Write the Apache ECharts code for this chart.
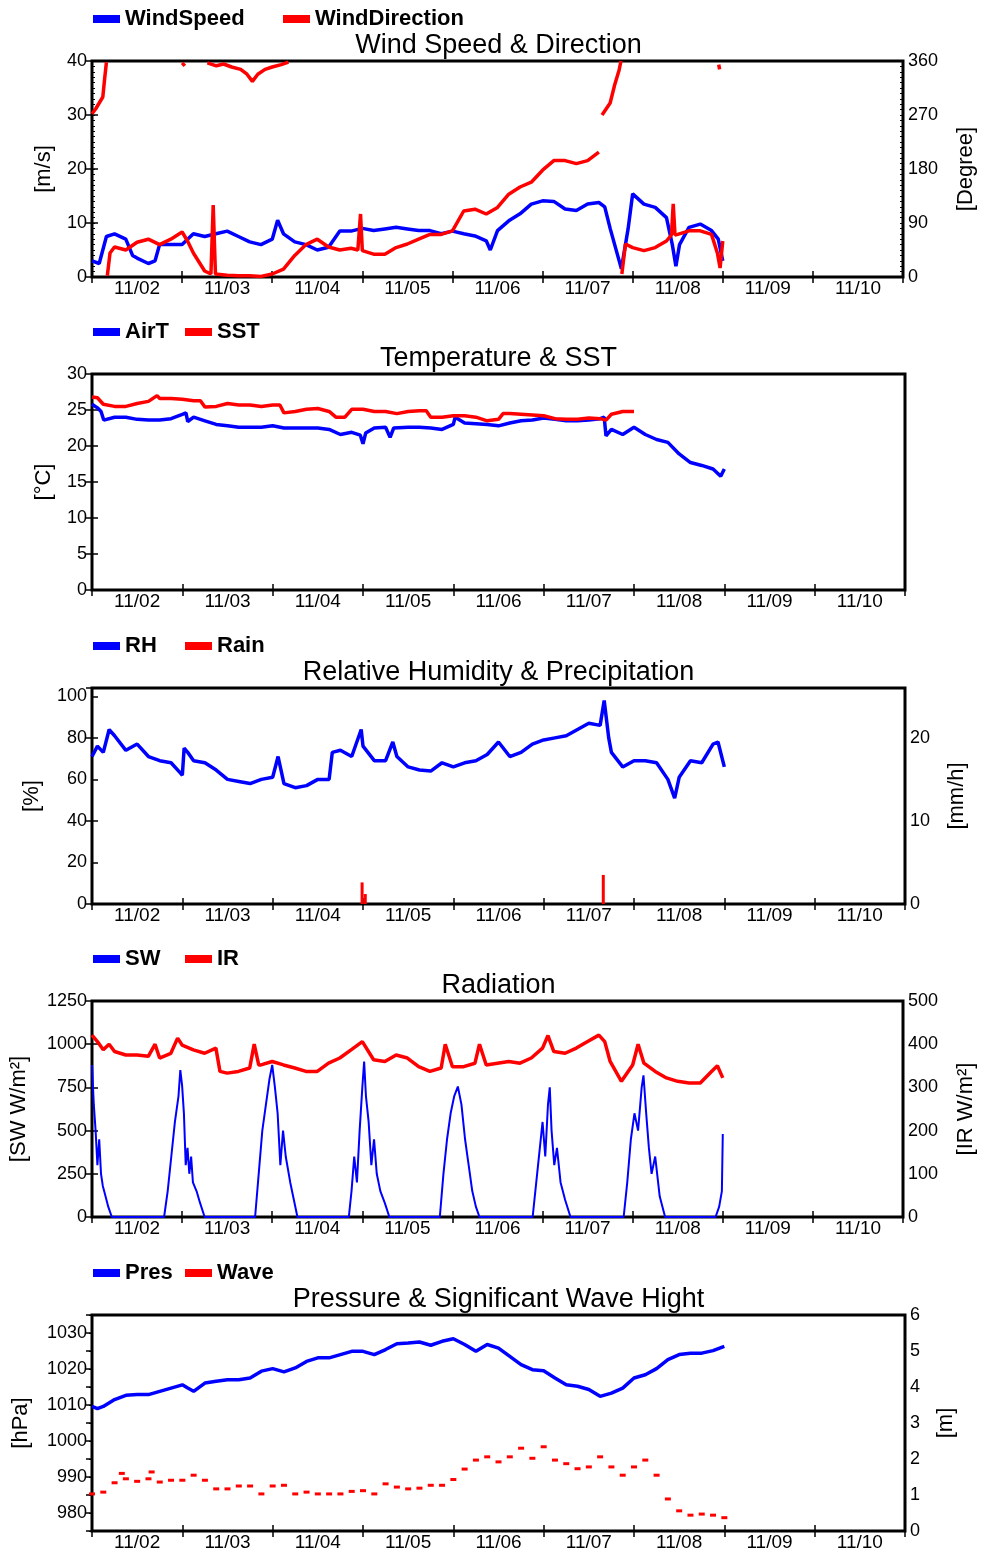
<!DOCTYPE html>
<html><head><meta charset="utf-8">
<script src="https://cdn.jsdelivr.net/npm/echarts@6/dist/echarts.min.js"></script>
<style>html,body{margin:0;padding:0;background:#fff}#c{width:985px;height:1557px}</style>
</head><body><div id="c"></div><script>
// ---------------- DATA ----------------
// x = days since 11/02 00:00
const DAY_LABELS = ['11/02','11/03','11/04','11/05','11/06','11/07','11/08','11/09','11/10'];
const TITLES = ['Wind Speed & Direction','Temperature & SST','Relative Humidity & Precipitation','Radiation','Pressure & Significant Wave Hight'];

const windSpeed = [[0,3],[0.08,2.5],[0.16,7.5],[0.25,8],[0.375,7],[0.45,4],[0.5,3.5],[0.625,2.5],[0.7,3],[0.75,6],[0.875,6],[1,6],[1.125,8],[1.25,7.5],[1.375,8],[1.5,8.5],[1.625,7.5],[1.75,6.5],[1.875,6],[2,7],[2.06,10.5],[2.125,8],[2.25,6.5],[2.375,6],[2.5,5],[2.625,5.5],[2.75,8.5],[2.875,8.5],[3,9],[3.125,8.6],[3.25,8.9],[3.375,9.2],[3.5,8.9],[3.625,8.6],[3.75,8.6],[3.875,8],[4,8.5],[4.125,8],[4.25,7.6],[4.375,6.7],[4.42,5],[4.5,8.6],[4.625,10.4],[4.75,11.7],[4.875,13.5],[5,14.1],[5.125,14],[5.25,12.6],[5.375,12.3],[5.5,13.5],[5.625,13.8],[5.69,13],[5.75,9],[5.875,1.5],[5.95,9],[6,15.4],[6.125,13.5],[6.25,12.9],[6.375,11],[6.44,6],[6.48,2],[6.52,6],[6.625,9.2],[6.75,9.8],[6.875,8.6],[6.95,7],[7,3]];
const windDirLow = [[0,272],[0.04,280],[0.08,290],[0.12,300],[0.14,330],[0.16,358],[0.165,'-'],[0.17,2],[0.2,40],[0.25,50],[0.375,45],[0.5,58],[0.625,63],[0.75,54],[0.875,63],[1,75],[1.06,60],[1.125,40],[1.25,10],[1.32,5],[1.345,120],[1.37,5],[1.5,3],[1.625,2],[1.75,2],[1.875,1],[2,5],[2.125,13],[2.25,36],[2.375,54],[2.5,63],[2.625,50],[2.75,45],[2.875,48],[2.95,45],[2.98,105],[3.0,44],[3.125,38],[3.25,38],[3.375,49],[3.5,55],[3.625,63],[3.75,71],[3.875,71],[4,77],[4.125,110],[4.25,113],[4.375,105],[4.5,116],[4.625,138],[4.75,150],[4.875,158],[5,178],[5.125,194],[5.25,194],[5.375,189],[5.5,194],[5.625,208],[5.65,'-'],[5.66,270],[5.75,290],[5.8,320],[5.85,345],[5.87,360],[5.875,'-'],[5.88,5],[5.92,55],[6,49],[6.125,44],[6.25,49],[6.375,60],[6.43,70],[6.45,122],[6.47,70],[6.5,71],[6.625,77],[6.75,77],[6.875,71],[6.94,40],[6.97,15],[7,60]];
const windDirHigh = [[1.0,357],[1.03,352],[1.05,'-'],[1.28,357],[1.38,352],[1.46,355],[1.55,350],[1.65,346],[1.72,338],[1.78,326],[1.84,338],[1.92,346],[2.0,350],[2.1,354],[2.18,358],[2.2,'-'],[6.955,354],[6.965,346]];

const airT = [[0,25.8],[0.06,25.3],[0.1,24.8],[0.13,23.6],[0.25,24.0],[0.375,24.0],[0.5,23.7],[0.625,23.6],[0.75,23.6],[0.875,23.8],[1,24.4],[1.04,24.6],[1.06,23.4],[1.125,24.0],[1.25,23.5],[1.375,23.0],[1.5,22.8],[1.625,22.6],[1.75,22.6],[1.875,22.6],[2,22.8],[2.125,22.5],[2.25,22.5],[2.375,22.5],[2.5,22.5],[2.625,22.3],[2.75,21.6],[2.875,21.9],[2.97,21.5],[3.0,20.3],[3.03,21.8],[3.125,22.5],[3.25,22.6],[3.3,21.2],[3.34,22.5],[3.5,22.6],[3.625,22.6],[3.75,22.5],[3.875,22.3],[4,23.0],[4.02,24.0],[4.125,23.2],[4.25,23.1],[4.375,23.0],[4.5,22.8],[4.625,23.2],[4.75,23.5],[4.875,23.6],[5,23.9],[5.125,23.7],[5.25,23.5],[5.375,23.5],[5.5,23.6],[5.625,23.8],[5.67,24.0],[5.69,21.4],[5.75,22.3],[5.875,21.6],[6,22.6],[6.125,21.6],[6.25,20.9],[6.375,20.5],[6.5,18.9],[6.625,17.7],[6.75,17.3],[6.875,16.8],[6.96,15.8],[7,16.8]];
const sst = [[0,26.8],[0.06,26.7],[0.125,25.8],[0.25,25.5],[0.375,25.5],[0.5,25.9],[0.625,26.2],[0.72,27.0],[0.75,26.6],[0.875,26.6],[1,26.5],[1.125,26.3],[1.2,26.3],[1.25,25.4],[1.375,25.5],[1.5,25.9],[1.625,25.7],[1.75,25.7],[1.875,25.5],[2,25.7],[2.08,25.7],[2.125,24.6],[2.25,24.8],[2.375,25.1],[2.5,25.2],[2.625,24.8],[2.7,24.0],[2.8,24.0],[2.875,25.1],[3,25.1],[3.125,24.8],[3.25,24.8],[3.375,24.5],[3.5,24.8],[3.625,24.9],[3.7,24.9],[3.75,24.0],[3.875,24.0],[4,24.2],[4.125,24.2],[4.25,24.0],[4.375,23.5],[4.5,23.7],[4.55,24.5],[4.625,24.5],[4.75,24.4],[4.875,24.3],[5,24.2],[5.125,23.8],[5.25,23.7],[5.375,23.7],[5.5,23.9],[5.625,23.8],[5.69,23.6],[5.75,24.4],[5.875,24.8],[6,24.8]];

const rh = [[0,71],[0.06,76],[0.125,73],[0.19,84],[0.25,81],[0.375,74],[0.5,77],[0.625,71],[0.75,69],[0.875,68],[0.98,63],[1.0,62],[1.02,75],[1.06,73],[1.125,69],[1.25,68],[1.375,64.5],[1.5,60],[1.625,59],[1.75,58],[1.875,60],[2,61],[2.06,71],[2.125,58],[2.25,56],[2.375,57],[2.5,60],[2.625,60],[2.66,73],[2.75,74],[2.875,71],[2.98,84],[3.0,76],[3.125,69],[3.25,69],[3.33,78],[3.375,71],[3.5,66],[3.625,64.5],[3.75,64],[3.875,68],[4,66],[4.125,68],[4.25,69],[4.375,72],[4.5,78],[4.625,71],[4.75,73],[4.875,77],[5,79],[5.125,80],[5.25,81],[5.375,84],[5.5,87],[5.625,86],[5.67,98],[5.72,80],[5.75,73],[5.875,66],[6,69],[6.125,69],[6.25,68],[6.375,60],[6.45,51],[6.5,61],[6.625,69],[6.75,68],[6.875,77],[6.93,78],[7,66]];
const rain = [[2.99,2.6],[3.025,1.2],[5.66,3.5]];

const sw = [[0,880],[0.02,650],[0.04,500],[0.06,300],[0.08,450],[0.1,250],[0.12,180],[0.15,120],[0.18,60],[0.22,0],[0.8,0],[0.84,150],[0.88,350],[0.92,550],[0.96,700],[0.98,850],[1.0,760],[1.02,600],[1.04,300],[1.06,400],[1.08,250],[1.1,350],[1.12,200],[1.16,150],[1.2,80],[1.25,0],[1.81,0],[1.85,250],[1.89,500],[1.93,650],[1.97,800],[2.0,880],[2.03,750],[2.06,600],[2.09,300],[2.12,500],[2.15,350],[2.2,200],[2.24,100],[2.28,0],[2.85,0],[2.88,150],[2.91,350],[2.94,200],[2.97,500],[3.0,750],[3.02,900],[3.04,700],[3.07,550],[3.1,300],[3.13,450],[3.16,250],[3.2,150],[3.25,80],[3.3,0],[3.86,0],[3.9,250],[3.94,450],[3.98,600],[4.02,700],[4.06,755],[4.1,650],[4.14,450],[4.18,300],[4.22,150],[4.26,60],[4.3,0],[4.89,0],[4.93,200],[4.97,400],[5.0,550],[5.03,350],[5.06,650],[5.08,750],[5.1,500],[5.13,300],[5.16,400],[5.2,200],[5.25,100],[5.31,0],[5.9,0],[5.94,200],[5.98,450],[6.02,600],[6.06,500],[6.1,750],[6.12,820],[6.15,600],[6.18,400],[6.21,250],[6.25,350],[6.3,120],[6.36,0],[6.92,0],[6.96,60],[6.99,150],[7.0,480]];
const ir = [[0,421],[0.06,406],[0.125,387],[0.19,400],[0.25,383],[0.375,375],[0.5,375],[0.625,372],[0.7,400],[0.75,368],[0.875,379],[0.95,414],[1,398],[1.125,387],[1.25,379],[1.375,391],[1.42,337],[1.5,333],[1.625,337],[1.75,345],[1.8,400],[1.85,352],[1.875,352],[2,360],[2.125,352],[2.25,345],[2.375,337],[2.5,337],[2.625,356],[2.75,368],[2.875,387],[3,406],[3.125,364],[3.25,360],[3.375,375],[3.5,368],[3.625,348],[3.75,337],[3.875,345],[3.92,400],[4,348],[4.125,348],[4.25,356],[4.3,400],[4.375,352],[4.5,356],[4.625,360],[4.75,356],[4.875,368],[5,391],[5.06,420],[5.125,383],[5.25,379],[5.375,391],[5.5,406],[5.625,421],[5.69,406],[5.75,360],[5.875,314],[6,352],[6.06,400],[6.125,356],[6.25,337],[6.375,322],[6.5,314],[6.625,310],[6.75,310],[6.875,337],[6.94,350],[7,322]];

const pres = [[0,1009.6],[0.06,1009.0],[0.125,1009.6],[0.25,1011.5],[0.375,1012.7],[0.5,1012.9],[0.625,1012.9],[0.75,1013.8],[0.875,1014.7],[1,1015.6],[1.06,1014.7],[1.125,1013.8],[1.25,1016.1],[1.375,1016.6],[1.5,1017.0],[1.625,1017.0],[1.75,1017.5],[1.875,1019.4],[2,1020.1],[2.125,1019.2],[2.25,1020.3],[2.375,1022.1],[2.5,1023.1],[2.625,1023.1],[2.75,1024.0],[2.875,1024.9],[3,1024.9],[3.125,1024.0],[3.25,1025.4],[3.375,1027.0],[3.5,1027.2],[3.625,1027.5],[3.75,1026.6],[3.875,1027.7],[4,1028.4],[4.125,1026.8],[4.25,1024.9],[4.375,1026.8],[4.5,1025.8],[4.625,1023.5],[4.75,1021.2],[4.875,1019.8],[5,1019.5],[5.125,1017.5],[5.25,1015.6],[5.375,1015.2],[5.5,1014.3],[5.625,1012.4],[5.75,1013.3],[5.875,1014.7],[6,1017.5],[6.125,1018.4],[6.25,1020.1],[6.375,1022.6],[6.5,1024.0],[6.625,1024.4],[6.75,1024.4],[6.875,1025.1],[7,1026.3]];
const wave = [[0,1.03],[0.125,1.08],[0.25,1.34],[0.33,1.6],[0.375,1.45],[0.5,1.38],[0.625,1.45],[0.66,1.64],[0.75,1.36],[0.875,1.41],[1,1.41],[1.125,1.55],[1.25,1.41],[1.375,1.17],[1.5,1.17],[1.625,1.25],[1.75,1.25],[1.875,1.03],[2,1.25],[2.125,1.27],[2.25,1.03],[2.375,1.08],[2.5,1.03],[2.625,1.03],[2.75,1.03],[2.875,1.10],[3,1.12],[3.125,1.03],[3.25,1.31],[3.375,1.22],[3.5,1.17],[3.625,1.19],[3.75,1.27],[3.875,1.27],[4,1.43],[4.125,1.72],[4.25,1.97],[4.375,2.06],[4.5,1.92],[4.625,2.06],[4.75,2.30],[4.875,2.02],[5,2.34],[5.125,1.97],[5.25,1.87],[5.375,1.73],[5.5,1.78],[5.625,2.06],[5.75,1.78],[5.875,1.55],[6,1.78],[6.125,1.97],[6.25,1.55],[6.375,0.89],[6.5,0.56],[6.625,0.44],[6.75,0.47],[6.875,0.44],[7,0.37]];

// ---------------- LAYOUT ----------------
const FONT = "'Liberation Sans', Arial, Helvetica, sans-serif";
const BLUE = '#0000ff', RED = '#ff0000';
const TOPS = [61, 374, 688, 1001, 1315];
const GL = 92, GW = 813, GH = 216;

function dayFmt(v){ const f = v - Math.floor(v); return Math.abs(f - 0.5) < 1e-6 ? (DAY_LABELS[Math.floor(v)] || '') : ''; }
function stepFmt(s){ return v => (Math.abs(v / s - Math.round(v / s)) < 1e-6 ? String(Math.round(v)) : ''); }

const panels = [
  { left:{min:0,max:40,interval:10,minor:1,name:'[m/s]',gap:37,fmt:stepFmt(10)},
    right:{min:0,max:360,interval:90,minor:9,name:'[Degree]',gap:52,fmt:stepFmt(90)},
    legends:[['WindSpeed',93],['WindDirection',283]],
    series:[{name:'WindSpeed',data:windSpeed,color:BLUE,axis:0,w:3.5},
            {name:'WindDirection',data:windDirLow,color:RED,axis:1,w:3.5},
            {name:'WindDirection',data:windDirHigh,color:RED,axis:1,w:3.5}] },
  { left:{min:0,max:30,interval:5,name:'[°C]',gap:37,fmt:stepFmt(5)},
    right:{min:0,max:30,interval:5,labels:false},
    legends:[['AirT',93],['SST',185]],
    series:[{name:'AirT',data:airT,color:BLUE,axis:0,w:3.5},
            {name:'SST',data:sst,color:RED,axis:0,w:3.5}] },
  { left:{min:0,max:104,interval:20,name:'[%]',gap:49,fmt:stepFmt(20)},
    right:{min:0,max:26,interval:10,name:'[mm/h]',gap:41,fmt:stepFmt(10)},
    legends:[['RH',93],['Rain',185]],
    series:[{name:'RH',data:rh,color:BLUE,axis:0,w:3.5},
            {name:'Rain',data:rain,color:RED,axis:1,type:'bar'}] },
  { left:{min:0,max:1250,interval:250,name:'[SW W/m²]',gap:62,fmt:stepFmt(250)},
    right:{min:0,max:500,interval:100,name:'[IR W/m²]',gap:52,fmt:stepFmt(100)},
    legends:[['SW',93],['IR',185]],
    series:[{name:'SW',data:sw,color:BLUE,axis:0,w:2},
            {name:'IR',data:ir,color:RED,axis:1,w:3.5}] },
  { left:{min:975,max:1035,interval:5,name:'[hPa]',gap:60,fmt:stepFmt(10),outside:true},
    right:{min:0,max:6,interval:1,minor:0.5,name:'[m]',gap:30,fmt:stepFmt(1)},
    legends:[['Pres',93],['Wave',185]],
    series:[{name:'Pres',data:pres,color:BLUE,axis:0,w:3.5},
            {name:'Wave',data:wave,color:RED,axis:1,type:'scatter'}] }
];

const option = { animation:false, textStyle:{fontFamily:FONT}, grid:[], xAxis:[], yAxis:[], series:[], legend:[], title:[] };
const minorAxes = [];

panels.forEach((p, i) => {
  const T = TOPS[i];
  option.grid.push({left:GL, top:T, width:GW, height:GH, show:true, borderColor:'#000', borderWidth:3, backgroundColor:'transparent'});
  const tickAx = pos => ({gridIndex:i, type:'value', min:0, max:9, interval:1, position:pos,
    axisLine:{show:false}, axisTick:{show:true, inside:true, length:6, lineStyle:{color:'#000', width:1.5}},
    axisLabel:{show:false}, splitLine:{show:false}});
  option.xAxis.push(tickAx('bottom'));
  option.xAxis.push(tickAx('top'));
  option.xAxis.push({gridIndex:i, type:'value', min:0, max:9, interval:0.5, position:'bottom',
    axisLine:{show:false}, axisTick:{show:false}, splitLine:{show:false},
    axisLabel:{formatter:dayFmt, fontSize:19, color:'#000', margin:2, fontFamily:FONT}});
  [['left',p.left],['right',p.right]].forEach(([pos, a]) => {
    option.yAxis.push({gridIndex:i, type:'value', position:pos, min:a.min, max:a.max, interval:a.interval,
      axisLine:{show:false},
      axisTick:{show:true, inside:!a.outside, length:6, lineStyle:{color:'#000', width:1.5}},
      splitLine:{show:false},
      axisLabel:{show:a.labels !== false, formatter:a.fmt, fontSize:18, color:'#000', margin:5, fontFamily:FONT},
      name:a.name || '', nameLocation:'middle', nameGap:a.gap || 40,
      nameTextStyle:{fontSize:22, color:'#000', fontFamily:FONT}});
    if (a.minor) {
      minorAxes.push({gridIndex:i, type:'value', position:pos, min:a.min, max:a.max, interval:a.minor,
        axisLine:{show:false}, axisLabel:{show:false}, splitLine:{show:false},
        axisTick:{show:true, inside:true, length:3, lineStyle:{color:'#000', width:1}}});
    }
  });
  p.series.forEach(s => {
    const base = {name:s.name, xAxisIndex:3*i, yAxisIndex:2*i + s.axis, data:s.data, animation:false,
      itemStyle:{color:s.color, opacity:1}};
    if (s.type === 'bar') {
      option.series.push(Object.assign(base, {type:'bar', barWidth:3}));
    } else if (s.type === 'scatter') {
      option.series.push(Object.assign(base, {type:'scatter', symbol:'rect', symbolSize:[6,3]}));
    } else {
      option.series.push(Object.assign(base, {type:'line', symbol:'none', showSymbol:false, connectNulls:false,
        lineStyle:{color:s.color, width:s.w}}));
    }
  });
  p.legends.forEach(([name, x]) => {
    option.legend.push({data:[name], left:x, top:T - 53, padding:0, icon:'rect', itemWidth:27, itemHeight:8,
      selectedMode:false, textStyle:{fontSize:22, fontWeight:'bold', color:'#000', fontFamily:FONT}});
  });
  option.title.push({text:TITLES[i], left:GL + GW/2, top:T - 29, textAlign:'center', padding:0,
    textStyle:{fontSize:27, fontWeight:'normal', color:'#000', fontFamily:FONT}});
});
option.yAxis = option.yAxis.concat(minorAxes);

const chart = echarts.init(document.getElementById('c'), null, {renderer:'canvas'});
chart.setOption(option);
</script></body></html>
